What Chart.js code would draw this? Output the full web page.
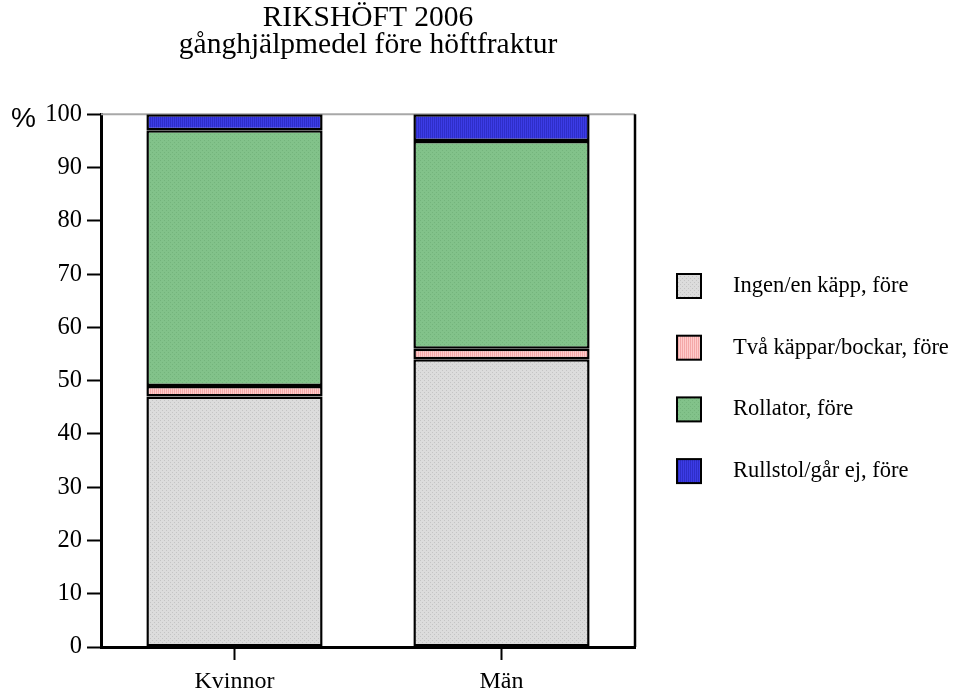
<!DOCTYPE html>
<html>
<head>
<meta charset="utf-8">
<script src="https://cdn.jsdelivr.net/npm/chart.js@4"></script>
<style>
    html, body { margin: 0; padding: 0; background: #ffffff; }
    #wrap { width: 971px; height: 693px; }
</style>
</head>
<body>
<div id="wrap"><canvas id="mainChart" width="971" height="693"></canvas></div>
<script>
const categories = ['Kvinnor', 'Män'];
const seriesLabels = ['Ingen/en käpp, före', 'Två käppar/bockar, före', 'Rollator, före', 'Rullstol/går ej, före'];
const ingenValues = [47, 54];
const tvaValues = [2, 2];
const rollatorValues = [48, 39];
const rullstolValues = [3, 5];
const yTicks = [0, 10, 20, 30, 40, 50, 60, 70, 80, 90, 100];

// Small repeating textures like the original fills
function makePattern(base, mark, kind) {
    const c = document.createElement('canvas');
    c.width = 4;
    c.height = 4;
    const g = c.getContext('2d');
    g.fillStyle = base;
    g.fillRect(0, 0, 4, 4);
    g.fillStyle = mark;
    if (kind === 'stripes') {
        g.fillRect(0, 0, 1, 4);
        g.fillRect(2, 0, 1, 4);
    } else {
        g.fillRect(0, 0, 1, 1);
        g.fillRect(2, 2, 1, 1);
    }
    return g.createPattern(c, 'repeat');
}

const fills = [
    makePattern('#dcdcdc', '#c4c4c4', 'dots'),
    makePattern('#ffcccc', '#f4a8a8', 'stripes'),
    makePattern('#82c28a', '#74b47c', 'dots'),
    makePattern('#3c3ce6', '#2e2ec8', 'stripes')
];

const seriesValues = [ingenValues, tvaValues, rollatorValues, rullstolValues];

const frameAndLegend = {
    id: 'frameAndLegend',
    beforeDatasetsDraw(chart) {
        const { ctx, chartArea } = chart;
        ctx.save();
        // thin grey top edge, black right edge
        ctx.strokeStyle = '#a8a8a8';
        ctx.lineWidth = 2;
        ctx.beginPath();
        ctx.moveTo(chartArea.left, chartArea.top);
        ctx.lineTo(chartArea.right, chartArea.top);
        ctx.stroke();
        ctx.strokeStyle = '#000000';
        ctx.lineWidth = 2.5;
        ctx.beginPath();
        ctx.moveTo(chartArea.right, chartArea.top);
        ctx.lineTo(chartArea.right, chartArea.bottom);
        ctx.stroke();
        ctx.restore();
    },
    afterDraw(chart) {
        const { ctx } = chart;
        ctx.save();
        ctx.fillStyle = '#000000';
        ctx.font = '28px "Liberation Sans"';
        ctx.textBaseline = 'alphabetic';
        ctx.fillText('%', 11, 127);

        ctx.font = '22.5px "Liberation Serif"';
        ctx.textBaseline = 'middle';
        chart.data.datasets.forEach((ds, i) => {
            const cy = 286 + i * 61.7;
            ctx.fillStyle = ds.backgroundColor;
            ctx.fillRect(677, cy - 12, 24, 24);
            ctx.strokeStyle = '#000000';
            ctx.lineWidth = 2;
            ctx.strokeRect(677, cy - 12, 24, 24);
            ctx.fillStyle = '#000000';
            ctx.fillText(ds.label, 733, cy);
        });
        ctx.restore();
    }
};

const ctx = document.getElementById('mainChart').getContext('2d');

new Chart(ctx, {
    type: 'bar',
    data: {
        labels: categories,
        datasets: seriesLabels.map((label, i) => ({
            label: label,
            data: seriesValues[i],
            backgroundColor: fills[i],
            borderColor: '#000000',
            borderWidth: 2.5,
            borderSkipped: false,
            categoryPercentage: 1,
            barPercentage: 0.66
        }))
    },
    options: {
        responsive: false,
        animation: false,
        layout: {
            padding: { left: 0, right: 336, top: 0, bottom: 0 }
        },
        scales: {
            x: {
                stacked: true,
                offset: true,
                grid: {
                    offset: false,
                    drawOnChartArea: false,
                    color: '#000000',
                    tickLength: 13,
                    tickWidth: 2
                },
                border: { color: '#000000', width: 3 },
                ticks: {
                    color: '#000000',
                    padding: 7,
                    font: { family: 'Liberation Serif', size: 24 }
                },
                afterFit(scale) {
                    scale.height = 46;
                }
            },
            y: {
                stacked: true,
                min: 0,
                max: 100,
                afterBuildTicks(scale) {
                    scale.ticks = yTicks.map(v => ({ value: v }));
                },
                grid: {
                    drawOnChartArea: false,
                    color: '#000000',
                    tickLength: 14,
                    tickWidth: 2
                },
                border: { color: '#000000', width: 3 },
                ticks: {
                    color: '#000000',
                    padding: 5,
                    font: { family: 'Liberation Serif', size: 24.5 }
                },
                afterFit(scale) {
                    scale.width = 101;
                }
            }
        },
        plugins: {
            legend: { display: false },
            tooltip: { enabled: false },
            title: {
                display: true,
                fullSize: false,
                text: ['RIKSHÖFT 2006', 'gånghjälpmedel före höftfraktur'],
                color: '#000000',
                font: { family: 'Liberation Serif', size: 29.5, weight: 'normal', lineHeight: 0.92 },
                padding: { top: 5, bottom: 55 }
            }
        }
    },
    plugins: [frameAndLegend]
});
</script>
</body>
</html>
